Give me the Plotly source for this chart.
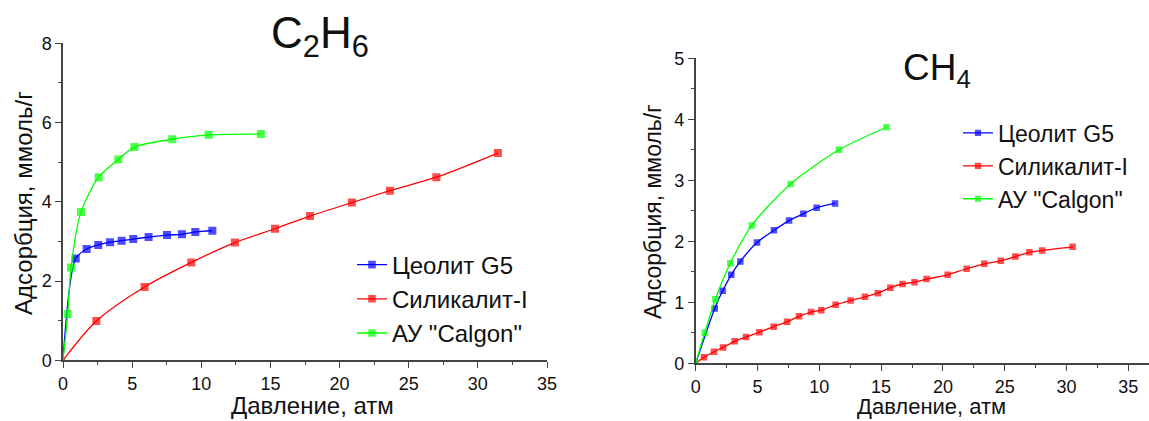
import plotly.graph_objects as go

# ---- data: C2H6 (left panel) ----
c2h6_zeo_x = [0, 0.92, 1.71, 2.55, 3.40, 4.24, 5.08, 6.19, 7.52, 8.60, 9.57, 10.80]
c2h6_zeo_y = [0, 2.57, 2.81, 2.91, 2.98, 3.02, 3.06, 3.11, 3.16, 3.18, 3.24, 3.27]
c2h6_sil_x = [0, 2.41, 5.90, 9.28, 12.43, 15.33, 17.86, 20.89, 23.64, 27.0, 31.45]
c2h6_sil_y = [0, 0.99, 1.85, 2.47, 2.97, 3.32, 3.64, 3.98, 4.28, 4.62, 5.23]
c2h6_cal_x = [0, 0.34, 0.58, 1.30, 2.58, 4.0, 5.16, 7.9, 10.53, 14.31]
c2h6_cal_y = [0, 1.17, 2.34, 3.74, 4.62, 5.07, 5.38, 5.58, 5.69, 5.71]

# ---- data: CH4 (right panel) ----
ch4_zeo_x = [0, 1.54, 2.18, 2.88, 3.61, 4.96, 6.33, 7.55, 8.71, 9.78, 11.27]
ch4_zeo_y = [0, 0.90, 1.19, 1.45, 1.67, 1.98, 2.18, 2.34, 2.45, 2.55, 2.62]
ch4_sil_x = [0, 0.67, 1.48, 2.21, 3.15, 4.07, 5.15, 6.31, 7.39, 8.36, 9.33, 10.16, 11.32,
             12.53, 13.69, 14.74, 15.75, 16.73, 17.70, 18.68, 20.38, 21.92, 23.35, 24.68,
             25.86, 27.0, 28.03, 30.49]
ch4_sil_y = [0, 0.10, 0.19, 0.26, 0.36, 0.43, 0.51, 0.60, 0.68, 0.77, 0.84, 0.87, 0.96,
             1.03, 1.09, 1.15, 1.24, 1.30, 1.33, 1.38, 1.45, 1.55, 1.63, 1.68,
             1.75, 1.82, 1.85, 1.91]
ch4_cal_x = [0, 0.73, 1.59, 2.80, 4.53, 7.68, 11.59, 15.44]
ch4_cal_y = [0, 0.50, 1.05, 1.64, 2.26, 2.94, 3.50, 3.87]

names = ["Цеолит G5", "Силикалит-I", 'АУ "Calgon"']
colors = ["#0000FF", "#FF0000", "#00FF00"]

FONT = "Arial, Liberation Sans, sans-serif"
W, H = 1149, 421

fig = go.Figure()

def add(x, y, i, xa, ya, leg, msize):
    sizes = [3] + [msize] * (len(x) - 1)
    fig.add_trace(go.Scatter(
        x=x, y=y, name=names[i], mode="lines+markers",
        line=dict(color=colors[i], width=1.3, shape="spline", smoothing=0.8),
        marker=dict(symbol="square", size=sizes, color=colors[i], line=dict(width=0)),
        xaxis=xa, yaxis=ya, legend=leg,
    ))

add(c2h6_zeo_x, c2h6_zeo_y, 0, "x", "y", "legend", 8)
add(c2h6_sil_x, c2h6_sil_y, 1, "x", "y", "legend", 8)
add(c2h6_cal_x, c2h6_cal_y, 2, "x", "y", "legend", 8)
add(ch4_zeo_x, ch4_zeo_y, 0, "x2", "y2", "legend2", 6.5)
add(ch4_sil_x, ch4_sil_y, 1, "x2", "y2", "legend2", 6.5)
add(ch4_cal_x, ch4_cal_y, 2, "x2", "y2", "legend2", 6.5)

axis_common = dict(
    showline=True, linecolor="#444444", linewidth=1.5,
    ticks="outside", ticklen=6, tickwidth=1.3, tickcolor="#444444",
    showgrid=False, zeroline=False, automargin=False,
    tickfont=dict(family=FONT, size=18, color="#111111"),
)

def px_x(p):
    return p / W

def px_y(p):
    return 1 - p / H

minor_x = dict(dtick=2.5, ticks="outside", ticklen=3, tickcolor="#444444")

fig.update_layout(
    template="none",
    width=W, height=H,
    margin=dict(l=0, r=0, t=0, b=0, pad=0),
    paper_bgcolor="white", plot_bgcolor="white",
    font=dict(family=FONT, color="#111111"),
    xaxis=dict(domain=[px_x(63), px_x(547)], range=[0, 35], dtick=5, anchor="y",
               minor=minor_x, **axis_common),
    yaxis=dict(domain=[px_y(360.3), px_y(43.3)], range=[0, 8], dtick=2, anchor="x",
               minor=dict(dtick=1, ticks="outside", ticklen=3, tickcolor="#444444"),
               **axis_common),
    xaxis2=dict(domain=[px_x(695.7), 1.0], range=[0, 36.67], dtick=5, anchor="y2",
                minor=minor_x, **axis_common),
    yaxis2=dict(domain=[px_y(363.3), px_y(58.3)], range=[0, 5], dtick=1, anchor="x2",
                minor=dict(dtick=0.5, ticks="outside", ticklen=3, tickcolor="#444444"),
                **axis_common),
    legend=dict(x=px_x(352), y=px_y(299), xanchor="left", yanchor="middle",
                bgcolor="rgba(0,0,0,0)", font=dict(family=FONT, size=24, color="#111111"),
                tracegroupgap=0, itemwidth=30),
    legend2=dict(x=px_x(958), y=px_y(166), xanchor="left", yanchor="middle",
                 bgcolor="rgba(0,0,0,0)", font=dict(family=FONT, size=23, color="#111111"),
                 tracegroupgap=0, itemwidth=30),
    showlegend=True,
)

ann = [
    dict(text="C<sub>2</sub>H<sub>6</sub>", x=px_x(319.5), y=px_y(36), font=dict(size=44)),
    dict(text="CH<sub>4</sub>", x=px_x(937), y=px_y(70), font=dict(size=37)),
    dict(text="Давление, атм", x=px_x(312), y=px_y(405), font=dict(size=24)),
    dict(text="Давление, атм", x=px_x(931), y=px_y(406), font=dict(size=22)),
    dict(text="Адсорбция, ммоль/г", x=px_x(23), y=px_y(203), font=dict(size=24), textangle=-90),
    dict(text="Адсорбция, ммоль/г", x=px_x(653), y=px_y(212), font=dict(size=23), textangle=-90),
]
for a in ann:
    a["font"].update(family=FONT, color="#111111")
    fig.add_annotation(xref="paper", yref="paper", showarrow=False,
                       xanchor="center", yanchor="middle", **a)

fig.write_html("out.html")
